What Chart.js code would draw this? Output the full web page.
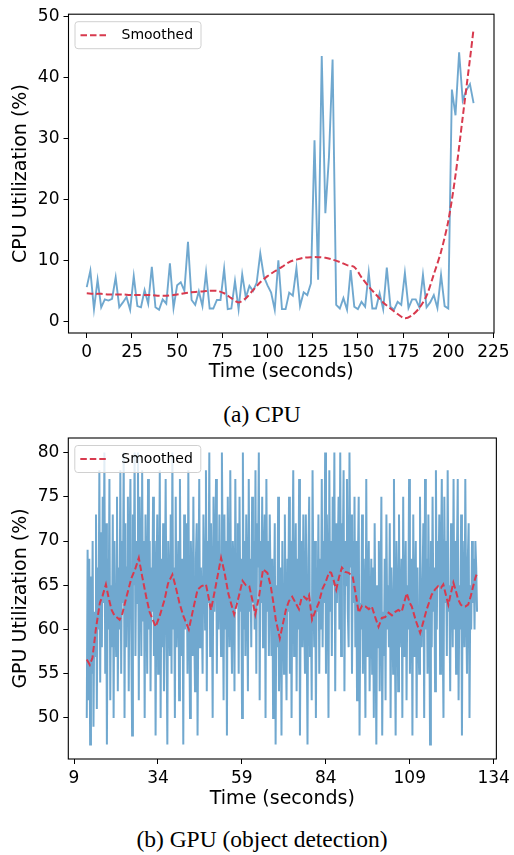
<!DOCTYPE html>
<html><head><meta charset="utf-8">
<script src="https://cdn.jsdelivr.net/npm/chart.js@4/dist/chart.umd.min.js"></script>
<style>
html,body{margin:0;padding:0;background:#fff;}
body{width:514px;height:855px;position:relative;overflow:hidden;}
canvas{position:absolute;left:0;}
#c1{top:0;width:514px;height:390px;}
#c2{top:420px;width:514px;height:400px;}
.cap{position:absolute;left:0;width:524px;text-align:center;font-family:"Liberation Serif","Times New Roman",serif;font-size:23.5px;line-height:1;color:#000;white-space:nowrap;}
</style></head>
<body>
<canvas id="c1" width="514" height="390"></canvas>
<div class="cap" style="top:403px">(a) CPU</div>
<canvas id="c2" width="514" height="400"></canvas>
<div class="cap" style="top:828px">(b) GPU (object detection)</div>
<script>
// ---------- CPU data ----------
const cpuTime = [0,2,4,6,8,10,12,14,16,18,20,22,24,26,28,30,32,34,36,38,40,42,44,46,48,50,52,54,56,58,60,62,64,66,68,70,72,74,76,78,80,82,84,86,88,90,92,94,96,98,100,102,104,106,108,110,112,114,116,118,120,122,124,126,128,130,132,134,136,138,140,142,144,146,148,150,152,154,156,158,160,162,164,166,168,170,172,174,176,178,180,182,184,186,188,190,192,194,196,198,200,202,204,206,208,210,212,214];
const cpuUtil = [5.7,8.4,2.1,6.9,2.4,3.7,3.5,3.8,7.3,2.4,3.2,4.1,2.0,7.5,2.6,2.4,5.2,3.0,9.0,2.4,2.0,3.7,3.0,9.6,2.3,6.0,6.5,5.1,13.1,3.6,2.8,5.0,2.6,8.1,2.2,2.2,3.6,3.6,8.7,2.1,2.2,6.7,2.1,7.8,4.0,5.9,5.1,6.4,11.2,7.4,6.0,4.8,2.0,10.1,2.1,2.1,4.8,4.3,8.8,2.6,4.85,4.4,6.3,29.7,6.9,43.5,17.8,27.0,42.9,2.8,2.2,3.9,2.0,8.5,2.5,2.1,3.3,2.5,8.1,2.2,2.2,4.7,2.1,8.9,2.5,2.0,3.3,2.8,8.0,2.3,3.7,3.7,2.4,7.7,2.4,3.2,4.4,2.3,7.7,2.6,2.2,38.0,33.8,44.1,36.2,37.9,38.9,35.8];
const cpuSmoothTime = [0,4,8,12,16,20,24,28,32,36,40,44,48,52,56,60,64,68,72,76,80,84,88,92,96,100,104,108,112,116,120,124,128,132,136,140,144,148,152,156,160,164,168,172,176,180,184,188,192,196,200,204,208,212,214];
const cpuSmooth = [4.7,4.6,4.6,4.5,4.5,4.5,4.4,4.4,4.4,4.4,4.3,4.3,4.4,4.6,4.8,4.9,5.0,5.1,5.1,4.7,3.9,3.2,3.9,5.2,6.5,7.5,8.3,9.0,9.8,10.2,10.5,10.6,10.6,10.5,10.2,9.8,9.3,9.0,7.3,5.8,4.5,3.2,2.2,1.3,0.6,1.1,2.3,4.3,7.8,11.5,16.5,24.0,33.5,43.0,47.9];
const cpuXTicks = [0,25,50,75,100,125,150,175,200,225];
const cpuYTicks = [0,10,20,30,40,50];

// ---------- GPU data ----------
const gpuStart = 12.8, gpuStep = 0.25; // sampling of the GPU trace (seconds)
const gpuUtil = [
50,69,52,68,47,66,55,70,49,62,57,73,51,67,60,78,54,71,58,75,
63,80,55,72,47,68,60,77,52,65,58,73,50,70,62,57,75,53,67,60,
78,55,70,63,80,50,72,58,67,75,53,69,77,60,48,73,65,80,57,70,
63,80,52,75,68,57,78,61,70,50,73,65,55,77,60,70,53,67,62,75,
57,70,48,65,73,55,62,78,50,68,58,72,53,63,77,60,47,70,65,57,
73,55,80,60,67,50,75,58,63,70,52,77,62,57,68,47,73,60,65,72,
55,78,62,50,70,65,57,75,60,53,68,72,48,63,77,58,67,62,55,73,
68,60,78,53,70,63,80,57,72,65,50,75,62,68,77,55,70,60,73,65,
57,80,67,52,73,60,70,48,75,65,58,78,62,55,70,67,53,77,63,68,
72,55,75,62,68,50,80,60,70,57,73,65,53,77,62,68,58,75,63,70,
60,78,55,72,67,80,52,70,63,75,58,68,73,50,77,62,70,57,73,65,
57,68,50,63,72,47,65,58,75,53,60,67,48,70,62,55,73,60,52,68,
62,75,55,70,50,67,78,57,63,72,53,68,60,77,48,65,70,58,73,62,
55,73,60,47,68,75,57,63,52,78,65,58,70,50,67,62,73,55,68,60,
77,58,70,63,80,55,73,67,50,78,62,70,57,75,65,80,53,72,63,68,
75,60,80,57,72,68,78,53,70,65,77,62,58,80,67,73,55,70,63,75,
58,70,52,67,75,48,63,60,73,55,68,62,50,77,57,65,70,53,62,68,
55,67,50,72,60,47,65,58,70,53,63,75,48,62,57,68,52,73,60,65,
58,72,50,67,63,55,77,60,48,70,65,53,73,58,62,68,50,75,57,63,
70,52,65,60,77,55,62,68,48,73,57,63,70,50,67,60,55,75,62,58,
65,72,50,77,60,68,55,73,63,47,70,58,75,62,67,53,78,60,70,65,
73,55,68,77,60,50,75,63,70,57,78,62,65,53,72,67,58,77,60,70,
55,68,77,52,65,60,73,48,70,62,58,77,63,55,68,72,50,65,60,70,
63,68,60,70,67,62];
const gpuSmoothTime = [12.8,13.7,14.5,15.5,16.7,17.5,18.5,19.3,20.2,21.0,22.0,22.6,23.4,24.5,26.1,27.2,28.3,29.3,30.5,31.5,33.3,34.5,36.0,37.0,38.3,39.3,40.4,41.5,43.2,44.5,45.8,47.0,48.3,49.0,49.8,51.0,52.8,53.8,55.0,56.7,58.0,59.2,60.2,61.2,62.2,63.0,64.1,65.3,66.6,67.6,68.4,69.1,70.3,71.2,72.1,73.0,74.0,75.0,76.0,76.8,77.5,78.3,79.0,79.9,80.8,81.9,83.0,83.9,85.0,85.6,86.3,87.1,88.0,88.8,89.8,90.8,92.0,93.0,93.8,94.8,95.8,96.8,97.7,98.7,99.7,100.7,101.7,102.7,103.7,104.7,105.6,106.6,107.3,108.1,109.0,109.6,110.8,112.1,113.0,114.0,115.5,116.5,117.5,118.3,119.0,119.7,120.5,121.2,122.0,122.7,123.4,124.2,124.9,125.6,126.4,127.2,127.9,128.6,129.1];
const gpuSmooth = [56.6,56.0,56.8,60.0,63.0,63.8,65.1,63.6,62.2,61.6,61.3,61.1,61.8,63.5,65.8,66.8,68.1,66.0,63.7,62.0,60.3,61.5,63.4,65.2,66.2,64.8,63.0,61.6,60.0,62.3,64.5,64.9,65.1,63.8,62.2,64.5,68.1,66.5,64.0,61.7,63.6,65.5,65.0,64.9,63.2,61.7,63.7,66.8,66.4,64.9,63.0,61.1,59.0,60.6,62.2,63.2,63.7,63.0,62.3,63.6,63.7,63.4,63.9,61.1,62.0,63.0,64.6,65.3,66.5,66.4,65.6,64.5,66.0,67.0,66.5,66.4,66.0,63.8,61.9,62.7,62.6,62.3,62.6,61.4,60.3,61.3,61.4,61.9,61.6,62.0,62.2,62.0,63.0,64.1,63.0,62.6,61.0,59.6,60.8,62.2,63.9,64.5,64.9,64.7,65.1,64.0,62.8,64.0,65.3,64.4,63.4,62.8,62.6,62.6,62.8,63.8,64.9,65.9,66.4];
const gpuXTicks = [9,34,59,84,109,134];
const gpuYTicks = [50,55,60,65,70,75,80];

// ---------- styling ----------
const RAW_COLOR = 'rgba(31,119,180,0.64)';
const SMOOTH_COLOR = 'rgb(216,58,78)';
const FONT = '"DejaVu Sans", sans-serif';

const framePlugin = {
  id: 'frameLegend',
  afterDatasetsDraw(chart) {
    const {ctx, chartArea: a} = chart;
    ctx.save();
    ctx.strokeStyle = '#000'; ctx.lineWidth = 1.1;
    ctx.strokeRect(a.left, a.top, a.right - a.left, a.bottom - a.top);
    const ds = chart.data.datasets[1];
    const bx = a.left + 6.5, by = a.top + 7.5, bw = 126, bh = 27;
    ctx.fillStyle = 'rgba(255,255,255,0.8)';
    ctx.strokeStyle = '#d0d0d0'; ctx.lineWidth = 1;
    ctx.beginPath(); ctx.roundRect(bx, by, bw, bh, 3); ctx.fill(); ctx.stroke();
    ctx.strokeStyle = ds.borderColor; ctx.lineWidth = 2; ctx.setLineDash([6.5, 3]);
    ctx.beginPath(); ctx.moveTo(bx + 5.5, by + bh / 2); ctx.lineTo(bx + 32.5, by + bh / 2); ctx.stroke();
    ctx.setLineDash([]);
    ctx.fillStyle = '#000'; ctx.font = '14px ' + FONT; ctx.textBaseline = 'middle'; ctx.textAlign = 'left';
    ctx.fillText(ds.label, bx + 46.5, by + bh / 2 + 0.5);
    ctx.restore();
  }
};

function makeChart(id, o) {
  const rawData = o.rawY.map((v, i) => ({x: o.rawX[i], y: v}));
  const smData = o.smY.map((v, i) => ({x: o.smX[i], y: v}));
  const tickFont = {family: FONT, size: 17};
  const titleFont = {family: FONT, size: 19};
  return new Chart(document.getElementById(id), {
    type: 'line',
    data: {datasets: [
      {label: 'Raw', order: 2, data: rawData, borderColor: RAW_COLOR, borderWidth: o.rawWidth, pointRadius: 0, tension: 0, fill: false},
      {label: 'Smoothed', order: 1, data: smData, borderColor: SMOOTH_COLOR, borderWidth: 2, borderDash: [6.5, 3], pointRadius: 0, tension: o.smTension, fill: false}
    ]},
    options: {
      responsive: false, animation: false, devicePixelRatio: 1,
      layout: {padding: {top: o.padTop, right: o.padRight, left: 0, bottom: 0}},
      plugins: {legend: {display: false}, tooltip: {enabled: false}},
      scales: {
        x: {
          type: 'linear', min: o.xMin, max: o.xMax,
          afterBuildTicks: s => { s.ticks = o.xTicks.map(v => ({value: v})); },
          afterFit: s => { s.height = o.xHeight; },
          ticks: {font: tickFont, color: '#000', padding: 4, maxRotation: 0, autoSkip: false, callback: v => String(v)},
          grid: {drawOnChartArea: false, drawTicks: true, tickLength: 5, color: '#000', lineWidth: 1},
          border: {display: false},
          title: {display: true, text: 'Time (seconds)', font: titleFont, color: '#000', padding: {top: 0, bottom: o.xTitlePad}}
        },
        y: {
          type: 'linear', min: o.yMin, max: o.yMax,
          afterBuildTicks: s => { s.ticks = o.yTicks.map(v => ({value: v})); },
          afterFit: s => { s.width = o.yWidth; },
          ticks: {font: tickFont, color: '#000', padding: 4, autoSkip: false, callback: v => String(v)},
          grid: {drawOnChartArea: false, drawTicks: true, tickLength: 5, color: '#000', lineWidth: 1},
          border: {display: false},
          title: {display: true, text: o.yTitle, font: titleFont, color: '#000', padding: {top: 10, bottom: 0}}
        }
      }
    },
    plugins: [framePlugin]
  });
}

makeChart('c1', {
  rawX: cpuTime, rawY: cpuUtil, smX: cpuSmoothTime, smY: cpuSmooth, smTension: 0.3, rawWidth: 1.9,
  xMin: -10.1, xMax: 225.3, yMin: -1.8, yMax: 50.33,
  xTicks: cpuXTicks, yTicks: cpuYTicks,
  yTitle: 'CPU Utilization (%)',
  padTop: 14, padRight: 20, yWidth: 68.5, xHeight: 57, xTitlePad: 7
});

const gpuTime = gpuUtil.map((_, i) => +(gpuStart + i * gpuStep).toFixed(2));
makeChart('c2', {
  rawX: gpuTime, rawY: gpuUtil, smX: gpuSmoothTime, smY: gpuSmooth, smTension: 0, rawWidth: 2,
  xMin: 7.3, xMax: 134.8, yMin: 45.35, yMax: 81.65,
  xTicks: gpuXTicks, yTicks: gpuYTicks,
  yTitle: 'GPU Utilization (%)',
  padTop: 18, padRight: 16, yWidth: 68.3, xHeight: 61, xTitlePad: 10
});
</script>
</body></html>
